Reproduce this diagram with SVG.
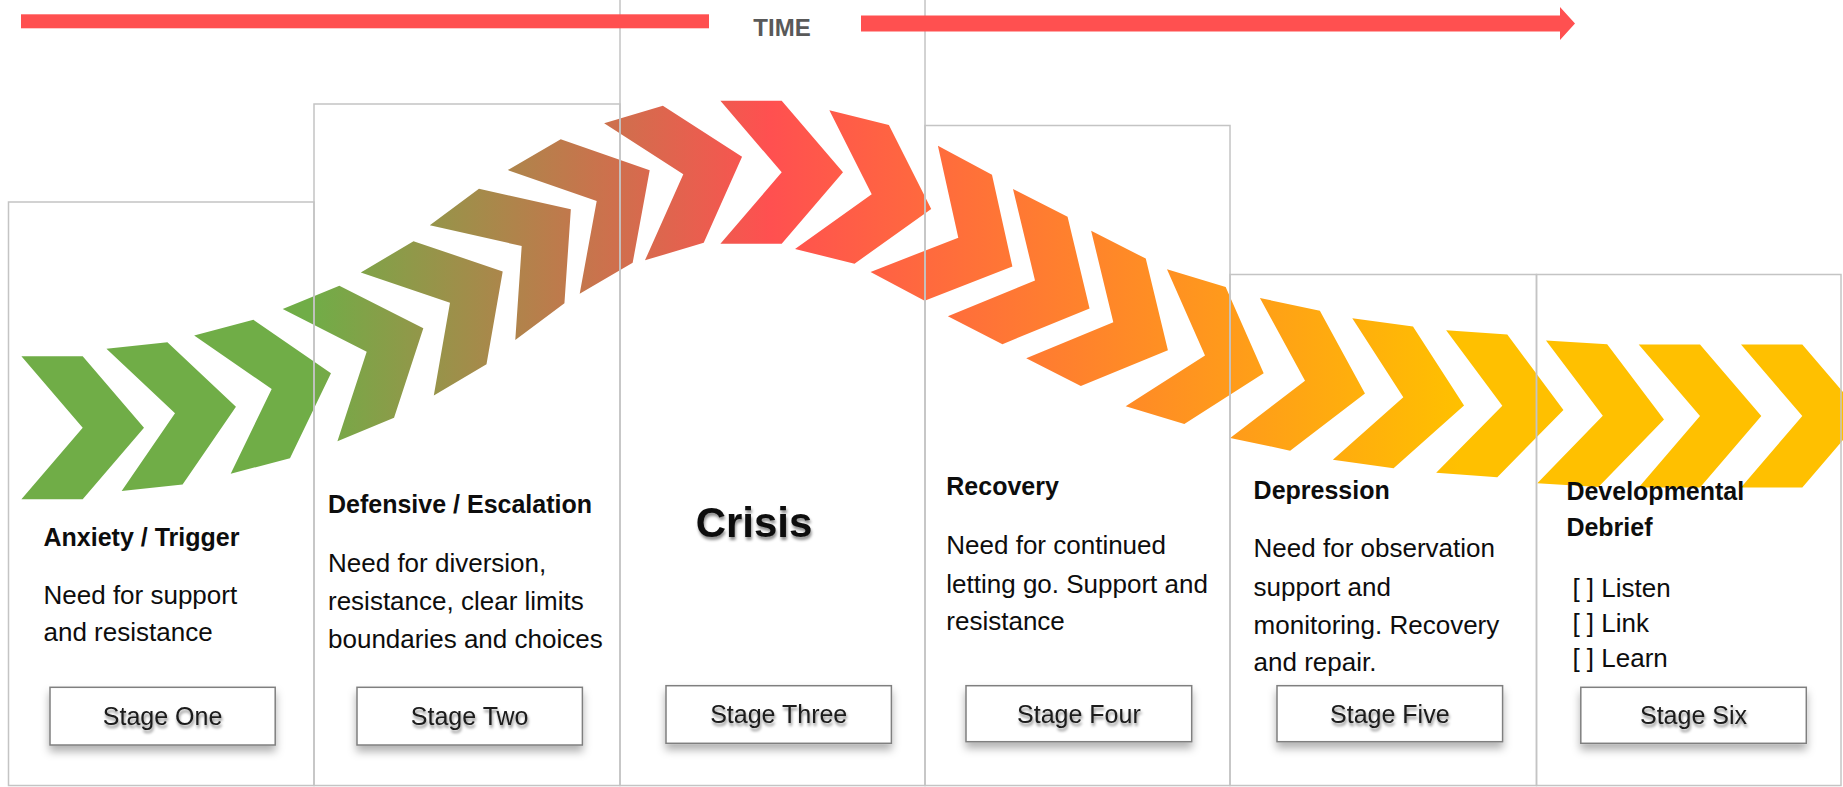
<svg xmlns="http://www.w3.org/2000/svg" width="1843" height="787" viewBox="0 0 1843 787">
  <defs>
    <linearGradient id="wave" gradientUnits="userSpaceOnUse" x1="0" y1="0" x2="1843" y2="0">
      <stop offset="0" stop-color="#70AD47"/>
      <stop offset="0.168" stop-color="#70AD47"/>
      <stop offset="0.418" stop-color="#FF5050"/>
      <stop offset="0.792" stop-color="#FFC000"/>
      <stop offset="1" stop-color="#FFC000"/>
    </linearGradient>
    <filter id="boxShadow" x="-10%" y="-20%" width="120%" height="160%">
      <feDropShadow dx="0" dy="6" stdDeviation="4" flood-color="#000" flood-opacity="0.3"/>
    </filter>
    <filter id="textShadow" x="-10%" y="-30%" width="120%" height="170%">
      <feDropShadow dx="1" dy="3" stdDeviation="1.6" flood-color="#000" flood-opacity="0.45"/>
    </filter>
  </defs>
  <style>
    .col { fill: none; stroke: #C4C4C4; stroke-width: 1.5; }
    .chev { fill: url(#wave); }
    .hd { font-family: "Liberation Sans", Arial, sans-serif; font-weight: bold; font-size: 25px; fill: #0D0D0D; }
    .bd { font-family: "Liberation Sans", Arial, sans-serif; font-size: 26px; fill: #0D0D0D; }
    .crisis { font-family: "Liberation Sans", Arial, sans-serif; font-weight: bold; font-size: 42px; fill: #0D0D0D; text-anchor: middle; filter: url(#textShadow); }
    .stage rect { fill: #FFFFFF; stroke: #7F7F7F; stroke-width: 1.5; filter: url(#boxShadow); }
    .stage text { font-family: "Liberation Sans", Arial, sans-serif; font-size: 25px; fill: #1A1A1A; text-anchor: middle; filter: url(#textShadow); }
    .time { font-family: "Liberation Sans", Arial, sans-serif; font-weight: bold; font-size: 24px; fill: #595959; text-anchor: middle; }
    .bar { fill: #FF5050; }
  </style>

  <rect x="0" y="0" width="1843" height="787" fill="#FFFFFF"/>

  <!-- chevron wave -->
  <g id="wave-chevrons">
    <polygon class="chev" points="21.4,356.2 82.7,356.2 144,427.7 82.7,499.2 21.4,499.2 82.7,427.7"/>
    <polygon class="chev" points="106.45,348.72 167.4,342.21 235.95,406.79 182.6,484.4 121.65,490.91 175,413.3"/>
    <polygon class="chev" points="194.17,335.53 253.44,319.87 330.97,373.34 289.97,458.13 230.7,473.79 271.7,389"/>
    <polygon class="chev" points="282.7,309.1 339.34,285.64 423.33,328.24 394.06,417.76 337.43,441.22 366.7,351.7"/>
    <polygon class="chev" points="360.79,272.52 413.5,241.22 502.71,271.4 486.5,364.18 433.8,395.48 450,302.7"/>
    <polygon class="chev" points="429.82,225.31 478.97,188.67 570.85,209.37 564.43,303.33 515.28,339.96 521.7,246"/>
    <polygon class="chev" points="507.75,170.04 560.73,139.21 649.68,170.17 632.67,262.8 579.69,293.63 596.7,201"/>
    <polygon class="chev" points="604.13,123.29 662.87,105.78 742.05,156.79 703.73,242.82 644.98,260.33 683.3,174.3"/>
    <polygon class="chev" points="720.4,100.8 781.7,100.8 843,172.3 781.7,243.8 720.4,243.8 781.7,172.3"/>
    <polygon class="chev" points="829.37,110.17 888.88,124.89 931.21,209.03 854.52,263.71 795.02,248.98 871.7,194.3"/>
    <polygon class="chev" points="937.9,145.76 991.98,174.63 1012.38,266.57 924.62,300.77 870.55,271.9 958.3,237.7"/>
    <polygon class="chev" points="1013,188.93 1067.57,216.85 1089.57,308.43 1002.43,344.15 947.86,316.23 1035,280.5"/>
    <polygon class="chev" points="1091.14,230.76 1145.76,258.59 1167.92,350.13 1080.84,386.01 1026.22,358.18 1113.3,322.3"/>
    <polygon class="chev" points="1166.98,269.33 1225.67,287.05 1263.68,373.22 1184.33,423.95 1125.65,406.23 1205,355.5"/>
    <polygon class="chev" points="1259.91,298.02 1319.87,310.76 1364.96,393.45 1290.13,450.64 1230.17,437.89 1305,380.7"/>
    <polygon class="chev" points="1352.27,318.14 1413,326.46 1464.03,405.62 1393.6,468.14 1332.86,459.82 1403.3,397.3"/>
    <polygon class="chev" points="1446.14,330.2 1507.29,334.47 1563.45,410.08 1497.31,477.13 1436.16,472.85 1502.3,405.8"/>
    <polygon class="chev" points="1545.98,340.59 1607.17,344.33 1663.99,419.44 1598.44,487.07 1537.25,483.32 1602.8,415.7"/>
    <polygon class="chev" points="1638.7,344.5 1700,344.5 1761.3,416 1700,487.5 1638.7,487.5 1700,416"/>
    <polygon class="chev" points="1741,344.5 1802.3,344.5 1863.6,416 1802.3,487.5 1741,487.5 1802.3,416"/>
  </g>

  <!-- stage columns -->
  <g id="columns">
    <rect class="col" x="8.5" y="202" width="305.5" height="583.5"/>
    <rect class="col" x="314" y="104" width="306" height="681.5"/>
    <rect class="col" x="620" y="-2" width="305" height="787.5"/>
    <rect class="col" x="925" y="125.5" width="305" height="660"/>
    <rect class="col" x="1230" y="274.5" width="306.5" height="511"/>
    <rect class="col" x="1536.5" y="274.5" width="304.5" height="511"/>
  </g>

  <!-- time arrow -->
  <g id="time-arrow">
    <rect class="bar" x="21" y="14.3" width="688" height="14"/>
    <text class="time" x="782" y="36">TIME</text>
    <polygon class="bar" points="861,15.5 1560,15.5 1560,7 1575,23.5 1560,40 1560,31.5 861,31.5"/>
  </g>

  <g id="stage-1">
    <text class="hd" x="43.5" y="545.5">Anxiety / Trigger</text>
    <text class="bd" x="43.5" y="604">Need for support</text>
    <text class="bd" x="43.5" y="641">and resistance</text>
    <g class="stage">
      <rect x="50" y="687.3" width="225.2" height="57.7"/>
      <text x="162.6" y="725">Stage One</text>
    </g>
  </g>

  <g id="stage-2">
    <text class="hd" x="328" y="513.3">Defensive / Escalation</text>
    <text class="bd" x="328" y="571.7">Need for diversion,</text>
    <text class="bd" x="328" y="610">resistance, clear limits</text>
    <text class="bd" x="328" y="648.3">boundaries and choices</text>
    <g class="stage">
      <rect x="357" y="687.3" width="225.4" height="57.7"/>
      <text x="469.7" y="725">Stage Two</text>
    </g>
  </g>

  <g id="stage-3">
    <text class="crisis" x="754" y="536.7">Crisis</text>
    <g class="stage">
      <rect x="666" y="685.7" width="225.4" height="57.6"/>
      <text x="778.7" y="723.3">Stage Three</text>
    </g>
  </g>

  <g id="stage-4">
    <text class="hd" x="946.3" y="495">Recovery</text>
    <text class="bd" x="946.3" y="554">Need for continued</text>
    <text class="bd" x="946.3" y="592.5">letting go. Support and</text>
    <text class="bd" x="946.3" y="630">resistance</text>
    <g class="stage">
      <rect x="966" y="685.7" width="225.7" height="56"/>
      <text x="1078.9" y="722.7">Stage Four</text>
    </g>
  </g>

  <g id="stage-5">
    <text class="hd" x="1253.6" y="498.7">Depression</text>
    <text class="bd" x="1253.6" y="557.3">Need for observation</text>
    <text class="bd" x="1253.6" y="596">support and</text>
    <text class="bd" x="1253.6" y="634">monitoring. Recovery</text>
    <text class="bd" x="1253.6" y="670.7">and repair.</text>
    <g class="stage">
      <rect x="1277" y="685.7" width="225.6" height="56"/>
      <text x="1389.8" y="722.7">Stage Five</text>
    </g>
  </g>

  <g id="stage-6">
    <text class="hd" x="1566.4" y="500">Developmental</text>
    <text class="hd" x="1566.4" y="536">Debrief</text>
    <text class="bd" x="1572.4" y="596.7">[ ] Listen</text>
    <text class="bd" x="1572.4" y="631.7">[ ] Link</text>
    <text class="bd" x="1572.4" y="666.7">[ ] Learn</text>
    <g class="stage">
      <rect x="1580.8" y="687.3" width="225.5" height="56"/>
      <text x="1693.5" y="724">Stage Six</text>
    </g>
  </g>
</svg>
